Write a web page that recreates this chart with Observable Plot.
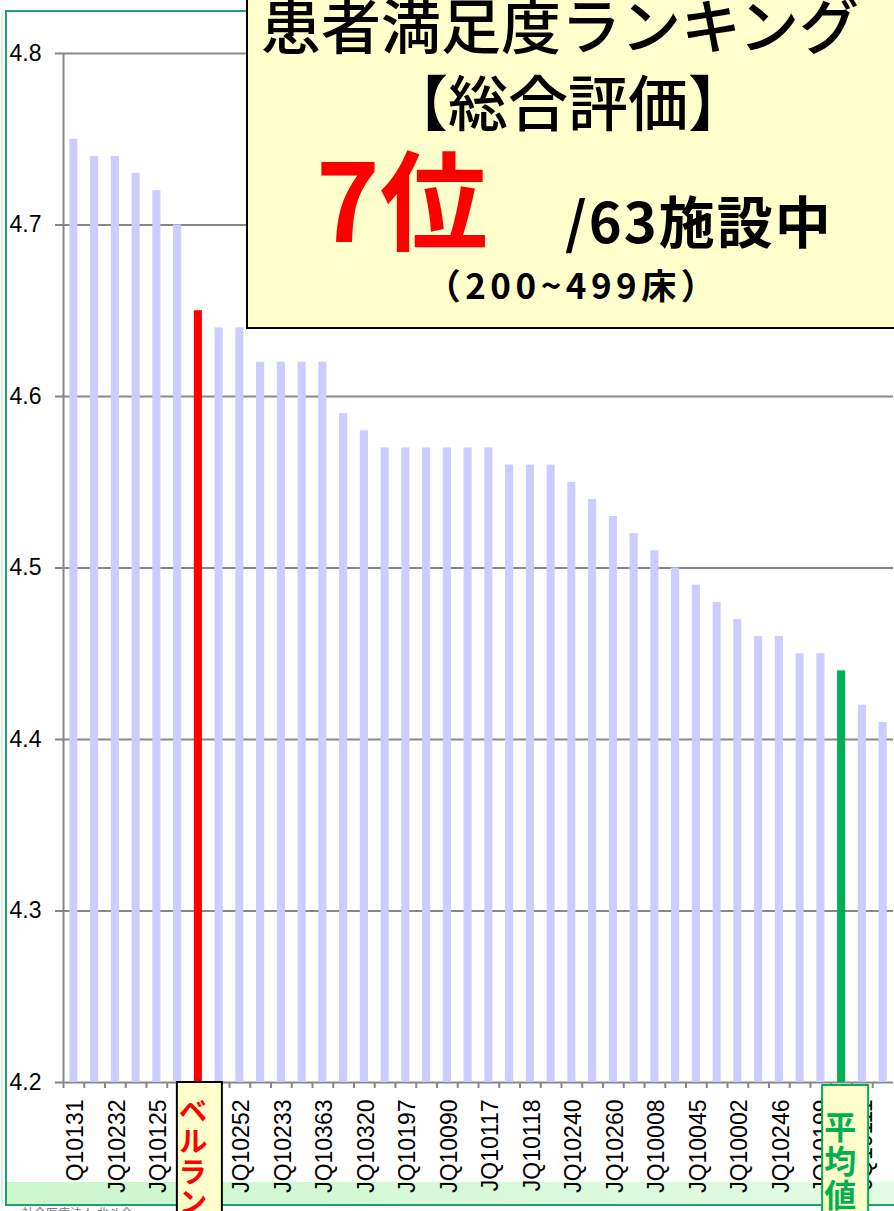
<!DOCTYPE html>
<html>
<head>
<meta charset="utf-8">
<script src="https://cdn.jsdelivr.net/npm/d3@7"></script>
<script src="https://cdn.jsdelivr.net/npm/@observablehq/plot@0.6"></script>
<style>
  body { margin: 0; background: #fff; }
  #wrap { position: relative; width: 894px; height: 1211px; overflow: hidden; background: #fff; }
  #band { position: absolute; left: 7px; top: 1182px; width: 887px; height: 22px;
          background: linear-gradient(to right, #ccf6cc, #e2fbe2); }
  #frame { position: absolute; left: 5px; top: 10px; width: 920px; height: 1192px;
           border: 2px solid #1f9e78; }
  #edge { position: absolute; left: 1px; top: 12px; width: 2px; height: 1192px; background: #d6f4da; }
  #chart { position: absolute; left: 0; top: 0; }
  #overlay { position: absolute; left: 0; top: 0; }
  #foot { position: absolute; left: 22px; top: 1204px; font: 12px "Noto Sans CJK JP", sans-serif; color: #777; white-space: nowrap; }
</style>
</head>
<body>
<div id="wrap">
  <div id="band"></div>
  <div id="edge"></div>
  <div id="frame"></div>
  <div id="foot">社会医療法人 北斗会</div>
  <div id="chart"></div>
  <svg id="overlay" width="894" height="1211" xmlns="http://www.w3.org/2000/svg"></svg>
</div>
<script>
// ---- data ----
const facilityLabels = [
  "Q10131", "", "JQ10232", "", "JQ10125", "", "ベルランド", "", "JQ10252", "",
  "JQ10233", "", "JQ10363", "", "JQ10320", "", "JQ10197", "", "JQ10090", "",
  "JQ10117", "", "JQ10118", "", "JQ10240", "", "JQ10260", "", "JQ10008", "",
  "JQ10045", "", "JQ10002", "", "JQ10246", "", "JQ10199", "", "JQ10111", ""
];
const scores = [
  4.75, 4.74, 4.74, 4.73, 4.72, 4.70, 4.65, 4.64, 4.64, 4.62,
  4.62, 4.62, 4.62, 4.59, 4.58, 4.57, 4.57, 4.57, 4.57, 4.57,
  4.57, 4.56, 4.56, 4.56, 4.55, 4.54, 4.53, 4.52, 4.51, 4.50,
  4.49, 4.48, 4.47, 4.46, 4.46, 4.45, 4.45, 4.44, 4.42, 4.41
];
const ownIndex = 6;        // ベルランド
const averageIndex = 37;   // 平均値
const yTicks = [4.2, 4.3, 4.4, 4.5, 4.6, 4.7, 4.8];
const labelledIndices = [0, 2, 4, 8, 10, 12, 14, 16, 18, 20, 22, 24, 26, 28, 30, 32, 34, 36, 38];

const titleLine1 = "患者満足度ランキング";
const titleLine2 = "【総合評価】";
const rankText = "7位";
const ofText = "/63施設中";
const bedText = "（200~499床）";
const ownLabel = "ベルラン";
const avgLabel = "平均値";

// ---- chart ----
const W = 894, H = 1211, mL = 63, mR = 1, mT = 53, mB = 129;
const n = scores.length;
const step = (W - mL - mR) / n;
const grey = "#878787";
const data = scores.map((s, i) => ({i, s}));
const fillOf = d => d.i === ownIndex ? "#ff0000" : d.i === averageIndex ? "#00b050" : "#ccccff";

const chart = Plot.plot({
  width: W, height: H,
  marginLeft: mL, marginRight: mR, marginTop: mT, marginBottom: mB,
  style: {background: "transparent", fontFamily: "'Liberation Sans', Arial, sans-serif", color: "#000", overflow: "visible"},
  x: {type: "band", domain: d3.range(n), paddingInner: 0.61, paddingOuter: 0.305, round: false, axis: null, label: null},
  y: {domain: [4.2, 4.8], axis: null, label: null},
  marks: [
    Plot.gridY(yTicks, {stroke: grey, strokeOpacity: 1, strokeWidth: 2}),
    Plot.barY(data, {x: "i", y1: 4.2, y2: "s", fill: fillOf}),
    Plot.ruleX([0], {x: d => d, dx: -step / 2, y1: 4.2, y2: 4.8, stroke: grey, strokeWidth: 2}),
    Plot.axisY(yTicks, {tickSize: 8, tickPadding: 14, fontSize: 23, stroke: grey, strokeWidth: 2, label: null,
                        strokeOpacity: 1, fill: "#000", tickFormat: d => d.toFixed(1)}),
    Plot.axisX(d3.range(n), {tickSize: 6, fill: "none", stroke: grey, strokeWidth: 2, strokeOpacity: 1,
                             dx: -step / 2, label: null}),
    Plot.axisX(labelledIndices, {tickSize: 0, tickPadding: 17, tickRotate: -90, fontSize: 23, fill: "#000",
                                 dx: 2, label: null, tickFormat: i => facilityLabels[i]})
  ]
});
document.getElementById("chart").appendChild(chart);

// ---- overlay: title box and annotation boxes ----
const ov = d3.select("#overlay");
const jp = "'Noto Sans CJK JP', sans-serif";
const xPos = i => mL + step * (i + 0.5);

// annotation boxes on the x axis
ov.append("rect").attr("x", xPos(ownIndex) - 21).attr("y", 1082).attr("width", 45).attr("height", 160)
  .attr("fill", "#ffffcc").attr("stroke", "#000").attr("stroke-width", 2);
ov.append("text").attr("x", xPos(ownIndex) - 5).attr("y", 1096)
  .attr("writing-mode", "vertical-rl").attr("font-family", jp).attr("font-weight", 700)
  .attr("font-size", 29).attr("letter-spacing", 1.5).attr("fill", "#ff0000").text(ownLabel);

ov.append("rect").attr("x", xPos(averageIndex) - 19).attr("y", 1085).attr("width", 46).attr("height", 160)
  .attr("fill", "#ffffcc").attr("stroke", "#00b050").attr("stroke-width", 2);
ov.append("text").attr("x", xPos(averageIndex) - 1).attr("y", 1111)
  .attr("writing-mode", "vertical-rl").attr("font-family", jp).attr("font-weight", 700)
  .attr("font-size", 32).attr("letter-spacing", 2).attr("fill", "#00b050").text(avgLabel);

// title box
ov.append("rect").attr("x", 247).attr("y", -5).attr("width", 700).attr("height", 333)
  .attr("fill", "#ffffcc").attr("stroke", "#000").attr("stroke-width", 2);
const title = ov.append("text").attr("text-anchor", "middle")
  .attr("font-family", jp).attr("font-weight", 500).attr("font-size", 60).attr("fill", "#000");
title.append("tspan").attr("x", 560).attr("y", 49).text(titleLine1);
title.append("tspan").attr("x", 568).attr("y", 126).text(titleLine2);
ov.append("text").attr("x", 316).attr("y", 242)
  .attr("font-family", jp).attr("font-weight", 700).attr("font-size", 108).attr("fill", "#ff0000").text(rankText);
ov.append("text").attr("x", 565).attr("y", 243)
  .attr("font-family", jp).attr("font-weight", 700).attr("font-size", 56).attr("letter-spacing", 2)
  .attr("fill", "#000").text(ofText);
ov.append("text").attr("x", 573).attr("y", 299).attr("text-anchor", "middle")
  .attr("font-family", jp).attr("font-weight", 700).attr("font-size", 35).attr("letter-spacing", 4.5)
  .attr("fill", "#000").text(bedText);
</script>
</body>
</html>
